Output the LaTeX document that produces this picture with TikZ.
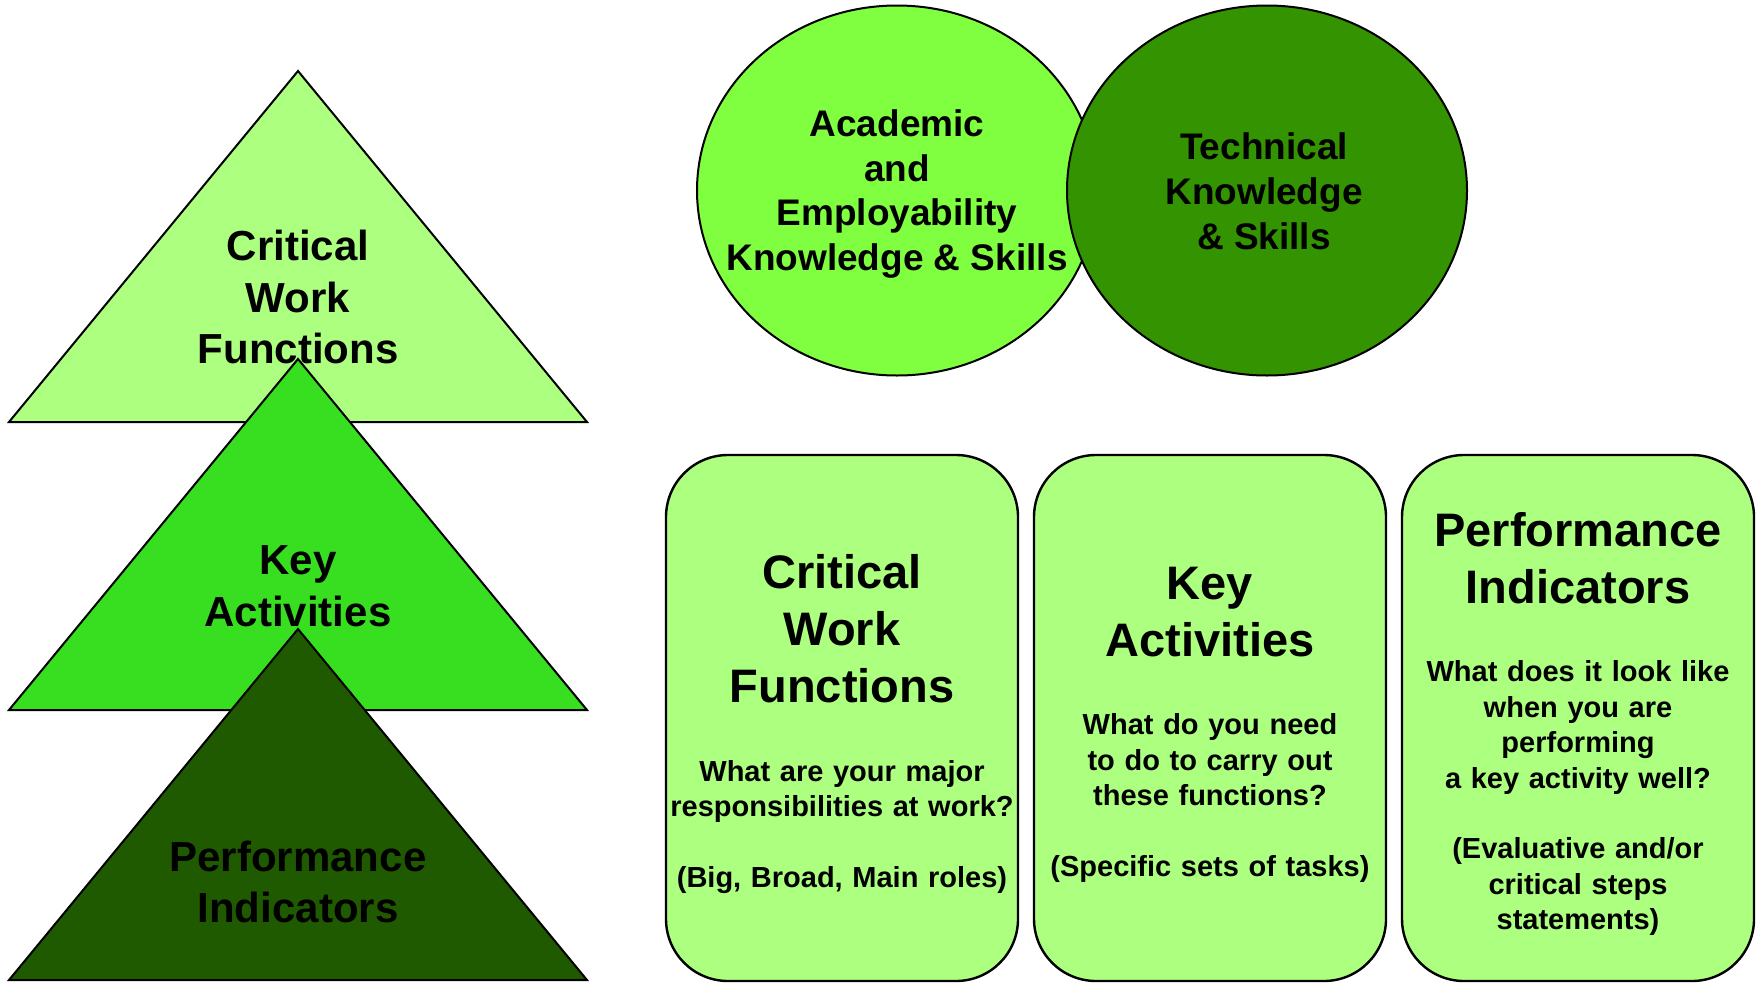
\documentclass[tikz,border=0pt]{standalone}
\usepackage{fontspec}
\setmainfont{Liberation Sans}
\usepackage{tikz}
\usetikzlibrary{shapes.geometric}

\definecolor{paleGreen}{RGB}{173,255,128}
\definecolor{midGreen}{RGB}{56,222,32}
\definecolor{darkGreen}{RGB}{31,90,0}
\definecolor{limeGreen}{RGB}{128,255,64}
\definecolor{grassGreen}{RGB}{51,147,0}

\tikzset{
    pyramid style/.style={draw=black,line width=2pt,line join=miter},
    venn style/.style={ellipse,draw=black,line width=2pt,minimum width=400pt,minimum height=370pt,inner sep=0pt},
    card style/.style={rectangle,draw=black,line width=2.4pt,rounded corners=62pt,fill=paleGreen,
        minimum width=352pt,minimum height=526pt,text width=350pt,inner sep=0pt,align=center,
        font=\bfseries\fontsize{29}{35.4}\selectfont},
    tri text/.style={align=center,inner sep=0pt,font=\bfseries\fontsize{42}{51.6}\selectfont},
    venn text/.style={align=center,inner sep=0pt,font=\bfseries\fontsize{37}{44.8}\selectfont}
}

\begin{document}
\begin{tikzpicture}[x=1pt,y=-1pt]
            \useasboundingbox (0,0) rectangle (1758,983);

            \draw [pyramid style,fill=paleGreen] (298,71) -- (587,422) -- (9,422) -- cycle;
            \node [tri text] (CriticalTri) at (298,297) {Critical\\Work\\Functions};

            \draw [pyramid style,fill=midGreen] (298,359) -- (587,710) -- (9,710) -- cycle;
            \node [tri text] (KeyTri) at (298,586) {Key\\Activities};

            \draw [pyramid style,fill=darkGreen] (298,629) -- (587,980) -- (9,980) -- cycle;
            \node [tri text] (PerformanceTri) at (298,882) {Performance\\Indicators};

            \node [venn style,fill=limeGreen] (AcademicSet) at (897,190.5) {};
            \node [venn style,fill=grassGreen] (TechnicalSet) at (1267,190.5) {};
            \node [venn text] (AcademicText) at (897,194) {Academic\\and\\Employability\\Knowledge \& Skills};
            \node [venn text] (TechnicalText) at (1264,191) {Technical\\Knowledge\\\& Skills};

            \node [card style] (CriticalCard) at (842,718) {%
                {\fontsize{47}{57}\selectfont\rule{0pt}{46pt}Critical\\Work\\Functions\par}
                \vspace{43pt}
                What are your major\\responsibilities at work?\\[35.4pt](Big, Broad, Main roles)\par};

            \node [card style] (KeyCard) at (1210,718) {%
                {\fontsize{47}{57}\selectfont\rule{0pt}{46pt}Key\\Activities\par}
                \vspace{43pt}
                What do you need\\to do to carry out\\these functions?\\[35.4pt](Specific sets of tasks)\par};

            \node [card style] (PerformanceCard) at (1578,718) {%
                {\fontsize{47}{57}\selectfont\rule{0pt}{46pt}Performance\\Indicators\par}
                \vspace{43pt}
                What does it look like\\when you are\\performing\\a key activity well?\\[35.4pt](Evaluative and/or\\critical steps\\statements)\par};
        \end{tikzpicture}
\end{document}
